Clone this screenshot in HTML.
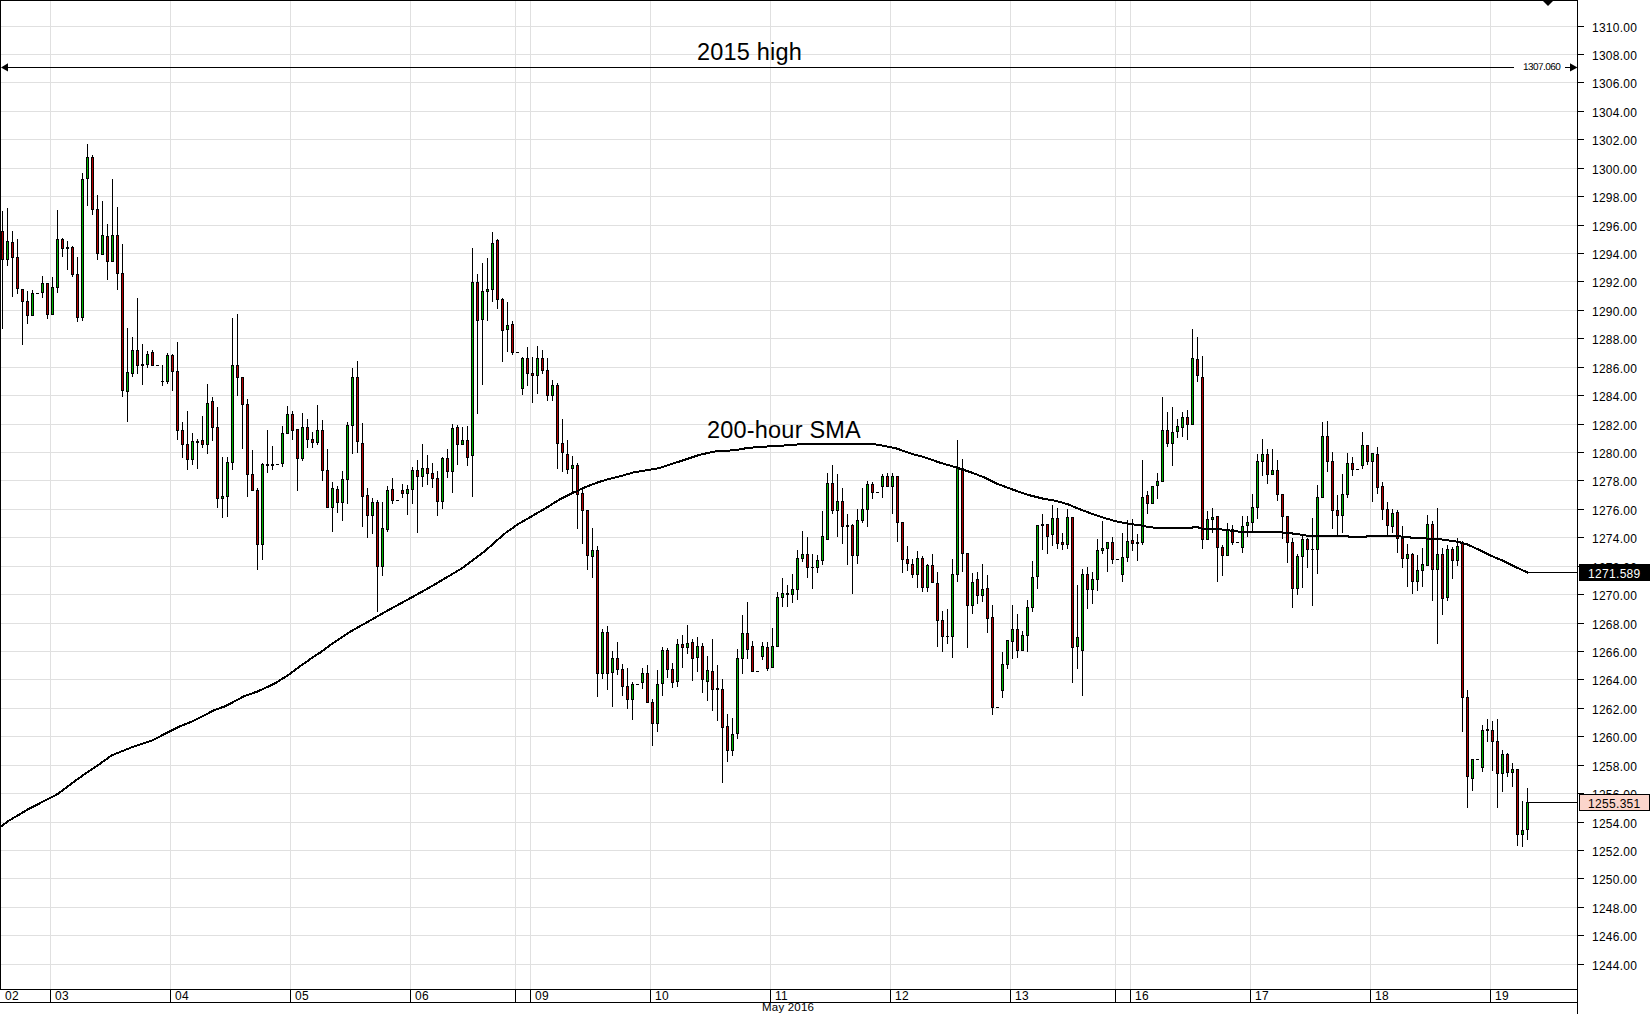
<!DOCTYPE html>
<html><head><meta charset="utf-8"><title>XAU/USD 1H chart</title>
<style>
html,body{margin:0;padding:0;background:#fff;}
body{width:1651px;height:1014px;position:relative;overflow:hidden;font-family:"Liberation Sans",sans-serif;color:#000;}
svg{position:absolute;left:0;top:0;}
.pl{position:absolute;left:1592px;font-size:12px;line-height:14px;height:14px;letter-spacing:0.26px;white-space:nowrap;}
.dl{position:absolute;top:989px;font-size:12px;line-height:14px;height:14px;letter-spacing:0.3px;white-space:nowrap;}
.big{position:absolute;font-size:23.5px;line-height:28px;letter-spacing:0.2px;white-space:nowrap;}
.box{position:absolute;left:1579px;width:71px;height:17px;box-sizing:border-box;font-size:12px;line-height:15px;letter-spacing:0.32px;text-align:left;padding-left:9px;white-space:nowrap;}
</style></head><body>

<svg width="1651" height="1014" viewBox="0 0 1651 1014" shape-rendering="crispEdges">
<path d="M1 964.5H1577 M1 935.5H1577 M1 907.5H1577 M1 878.5H1577 M1 850.5H1577 M1 822.5H1577 M1 793.5H1577 M1 765.5H1577 M1 736.5H1577 M1 708.5H1577 M1 679.5H1577 M1 651.5H1577 M1 623.5H1577 M1 594.5H1577 M1 566.5H1577 M1 537.5H1577 M1 509.5H1577 M1 480.5H1577 M1 452.5H1577 M1 424.5H1577 M1 395.5H1577 M1 367.5H1577 M1 338.5H1577 M1 310.5H1577 M1 281.5H1577 M1 253.5H1577 M1 225.5H1577 M1 196.5H1577 M1 168.5H1577 M1 139.5H1577 M1 111.5H1577 M1 82.5H1577 M1 54.5H1577 M1 26.5H1577 M50.5 1V989 M170.5 1V989 M290.5 1V989 M410.5 1V989 M530.5 1V989 M650.5 1V989 M770.5 1V989 M890.5 1V989 M1010.5 1V989 M1130.5 1V989 M1250.5 1V989 M1370.5 1V989 M1490.5 1V989 M515.5 1V989 M1115.5 1V989" stroke="#e0e0e0" stroke-width="1" fill="none"/>
<path d="M0 .5H1578 M.5 0V990 M1577.5 0V1014 M0 989.5H1578 M0 1002.5H1578 M1578 964.5H1584 M1578 935.5H1584 M1578 907.5H1584 M1578 878.5H1584 M1578 850.5H1584 M1578 822.5H1584 M1578 793.5H1584 M1578 765.5H1584 M1578 736.5H1584 M1578 708.5H1584 M1578 679.5H1584 M1578 651.5H1584 M1578 623.5H1584 M1578 594.5H1584 M1578 566.5H1584 M1578 537.5H1584 M1578 509.5H1584 M1578 480.5H1584 M1578 452.5H1584 M1578 424.5H1584 M1578 395.5H1584 M1578 367.5H1584 M1578 338.5H1584 M1578 310.5H1584 M1578 281.5H1584 M1578 253.5H1584 M1578 225.5H1584 M1578 196.5H1584 M1578 168.5H1584 M1578 139.5H1584 M1578 111.5H1584 M1578 82.5H1584 M1578 54.5H1584 M1578 26.5H1584 M50.5 989V1003 M170.5 989V1003 M290.5 989V1003 M410.5 989V1003 M530.5 989V1003 M650.5 989V1003 M770.5 989V1003 M890.5 989V1003 M1010.5 989V1003 M1130.5 989V1003 M1250.5 989V1003 M1370.5 989V1003 M1490.5 989V1003 M515.5 989V1003 M1115.5 989V1003" stroke="#000" stroke-width="1" fill="none"/>
<path d="M1543 1H1553L1548 6Z" fill="#000" shape-rendering="geometricPrecision"/>
<path d="M6 67.5H1514M1565 67.5H1572" stroke="#000" stroke-width="1" fill="none"/>
<path d="M1 67.5L8 63.3V71.5Z M1577.5 67.5L1570 63.3V71.5Z" fill="#000" shape-rendering="geometricPrecision"/>
<path d="M2 211h1v118h-1zM7 208h1v58h-1zM12 231h1v66h-1zM17 239h1v55h-1zM22 289h1v56h-1zM27 291h1v33h-1zM32 290h1v26h-1zM42 276h1v22h-1zM47 283h1v36h-1zM52 277h1v38h-1zM57 210h1v83h-1zM62 238h1v19h-1zM67 241h1v29h-1zM72 246h1v31h-1zM77 257h1v65h-1zM82 173h1v148h-1zM87 144h1v62h-1zM92 155h1v60h-1zM97 195h1v65h-1zM102 201h1v54h-1zM107 224h1v56h-1zM112 179h1v83h-1zM117 207h1v83h-1zM122 244h1v153h-1zM127 328h1v94h-1zM132 337h1v40h-1zM137 298h1v76h-1zM142 344h1v41h-1zM147 351h1v17h-1zM152 350h1v16h-1zM162 365h1v21h-1zM167 353h1v31h-1zM172 354h1v37h-1zM177 342h1v98h-1zM182 422h1v36h-1zM187 411h1v59h-1zM192 433h1v32h-1zM197 439h1v30h-1zM202 416h1v32h-1zM207 384h1v70h-1zM212 397h1v44h-1zM217 407h1v101h-1zM222 457h1v61h-1zM227 457h1v60h-1zM232 318h1v152h-1zM237 314h1v82h-1zM242 377h1v72h-1zM247 399h1v98h-1zM252 450h1v41h-1zM257 488h1v82h-1zM262 463h1v97h-1zM267 430h1v43h-1zM272 446h1v24h-1zM282 426h1v41h-1zM287 406h1v28h-1zM292 411h1v29h-1zM297 429h1v62h-1zM302 413h1v48h-1zM307 419h1v29h-1zM312 432h1v16h-1zM317 405h1v40h-1zM322 420h1v61h-1zM327 449h1v59h-1zM332 482h1v50h-1zM337 486h1v27h-1zM342 471h1v50h-1zM347 422h1v82h-1zM352 368h1v86h-1zM357 361h1v92h-1zM362 423h1v104h-1zM367 488h1v50h-1zM372 498h1v36h-1zM377 500h1v112h-1zM382 502h1v74h-1zM387 486h1v46h-1zM392 478h1v26h-1zM402 484h1v14h-1zM407 485h1v30h-1zM412 467h1v37h-1zM417 460h1v73h-1zM422 444h1v43h-1zM427 455h1v30h-1zM432 463h1v25h-1zM437 471h1v45h-1zM442 457h1v52h-1zM447 449h1v29h-1zM452 424h1v69h-1zM457 425h1v40h-1zM462 427h1v18h-1zM467 426h1v40h-1zM472 248h1v249h-1zM477 274h1v140h-1zM482 263h1v122h-1zM487 258h1v63h-1zM492 232h1v70h-1zM497 239h1v70h-1zM502 298h1v64h-1zM507 302h1v50h-1zM512 321h1v34h-1zM522 357h1v38h-1zM527 347h1v39h-1zM532 357h1v46h-1zM537 346h1v48h-1zM542 350h1v24h-1zM547 358h1v43h-1zM552 380h1v21h-1zM557 383h1v86h-1zM562 419h1v53h-1zM567 440h1v34h-1zM572 456h1v36h-1zM577 463h1v66h-1zM582 490h1v54h-1zM587 510h1v60h-1zM592 528h1v50h-1zM597 546h1v151h-1zM602 629h1v50h-1zM607 626h1v64h-1zM612 651h1v56h-1zM617 642h1v33h-1zM622 664h1v32h-1zM627 668h1v41h-1zM632 682h1v38h-1zM642 668h1v21h-1zM647 665h1v38h-1zM652 699h1v47h-1zM657 670h1v62h-1zM662 647h1v49h-1zM667 648h1v30h-1zM672 663h1v25h-1zM677 639h1v48h-1zM682 635h1v33h-1zM687 625h1v29h-1zM692 639h1v42h-1zM697 637h1v35h-1zM702 643h1v50h-1zM707 656h1v45h-1zM712 639h1v72h-1zM717 665h1v56h-1zM722 679h1v104h-1zM727 714h1v48h-1zM732 718h1v38h-1zM737 649h1v90h-1zM742 615h1v59h-1zM747 602h1v57h-1zM752 641h1v31h-1zM762 642h1v18h-1zM767 642h1v29h-1zM772 628h1v40h-1zM777 592h1v55h-1zM782 578h1v29h-1zM787 585h1v22h-1zM792 574h1v29h-1zM797 550h1v50h-1zM802 531h1v31h-1zM807 537h1v41h-1zM812 554h1v35h-1zM817 555h1v18h-1zM822 511h1v54h-1zM827 473h1v67h-1zM832 465h1v49h-1zM837 474h1v63h-1zM842 488h1v56h-1zM847 514h1v51h-1zM852 524h1v70h-1zM857 509h1v55h-1zM862 488h1v35h-1zM867 481h1v46h-1zM872 482h1v17h-1zM882 474h1v24h-1zM887 473h1v14h-1zM892 473h1v41h-1zM897 476h1v66h-1zM902 522h1v51h-1zM907 546h1v25h-1zM912 559h1v19h-1zM917 551h1v37h-1zM922 556h1v36h-1zM927 564h1v28h-1zM932 554h1v29h-1zM937 572h1v75h-1zM942 611h1v41h-1zM947 609h1v35h-1zM952 559h1v99h-1zM957 440h1v142h-1zM962 459h1v113h-1zM967 553h1v95h-1zM972 573h1v41h-1zM977 572h1v32h-1zM982 564h1v38h-1zM987 575h1v58h-1zM992 605h1v110h-1zM1002 652h1v46h-1zM1007 640h1v29h-1zM1012 605h1v54h-1zM1017 614h1v44h-1zM1022 631h1v20h-1zM1027 600h1v52h-1zM1032 561h1v51h-1zM1037 525h1v64h-1zM1042 514h1v36h-1zM1047 524h1v30h-1zM1052 505h1v41h-1zM1057 508h1v41h-1zM1062 533h1v17h-1zM1067 509h1v40h-1zM1072 517h1v166h-1zM1077 585h1v84h-1zM1082 569h1v127h-1zM1087 567h1v42h-1zM1092 572h1v32h-1zM1097 539h1v52h-1zM1102 521h1v33h-1zM1107 542h1v30h-1zM1112 537h1v27h-1zM1122 533h1v49h-1zM1127 520h1v42h-1zM1132 519h1v32h-1zM1137 534h1v27h-1zM1142 460h1v85h-1zM1147 491h1v23h-1zM1152 486h1v18h-1zM1157 473h1v26h-1zM1162 397h1v85h-1zM1167 412h1v35h-1zM1172 407h1v59h-1zM1177 419h1v19h-1zM1182 412h1v25h-1zM1187 410h1v30h-1zM1192 329h1v96h-1zM1197 337h1v45h-1zM1202 356h1v193h-1zM1207 511h1v29h-1zM1212 508h1v25h-1zM1217 516h1v66h-1zM1222 545h1v31h-1zM1227 523h1v33h-1zM1232 525h1v20h-1zM1242 516h1v37h-1zM1247 516h1v21h-1zM1252 494h1v39h-1zM1257 454h1v65h-1zM1262 439h1v37h-1zM1267 449h1v35h-1zM1272 449h1v26h-1zM1277 460h1v41h-1zM1282 494h1v45h-1zM1287 516h1v47h-1zM1292 538h1v70h-1zM1297 554h1v41h-1zM1302 536h1v52h-1zM1307 538h1v30h-1zM1312 518h1v88h-1zM1317 485h1v89h-1zM1322 422h1v76h-1zM1327 421h1v51h-1zM1332 452h1v77h-1zM1337 495h1v40h-1zM1342 474h1v59h-1zM1347 453h1v45h-1zM1352 457h1v19h-1zM1362 432h1v37h-1zM1367 445h1v20h-1zM1372 453h1v49h-1zM1377 447h1v47h-1zM1382 482h1v38h-1zM1387 502h1v33h-1zM1392 509h1v24h-1zM1397 510h1v43h-1zM1402 526h1v42h-1zM1407 544h1v43h-1zM1412 553h1v41h-1zM1417 555h1v36h-1zM1422 548h1v39h-1zM1427 515h1v51h-1zM1432 521h1v80h-1zM1437 508h1v136h-1zM1442 548h1v67h-1zM1447 545h1v56h-1zM1452 547h1v32h-1zM1457 538h1v28h-1zM1462 541h1v191h-1zM1467 690h1v118h-1zM1472 759h1v32h-1zM1482 725h1v47h-1zM1487 719h1v23h-1zM1492 721h1v50h-1zM1497 719h1v89h-1zM1502 750h1v42h-1zM1507 753h1v24h-1zM1512 763h1v24h-1zM1517 769h1v77h-1zM1522 801h1v46h-1zM1527 788h1v52h-1zM1 231h3v29h-3zM6 241h3v19h-3zM11 242h3v16h-3zM16 257h3v32h-3zM21 289h3v13h-3zM26 301h3v15h-3zM31 293h3v23h-3zM36 293h3v1h-3zM41 283h3v10h-3zM46 283h3v32h-3zM51 287h3v28h-3zM56 239h3v49h-3zM61 239h3v10h-3zM66 247h3v2h-3zM71 247h3v28h-3zM76 274h3v44h-3zM81 179h3v139h-3zM86 157h3v22h-3zM91 157h3v53h-3zM96 209h3v45h-3zM101 235h3v20h-3zM106 236h3v26h-3zM111 235h3v27h-3zM116 235h3v39h-3zM121 273h3v118h-3zM126 372h3v20h-3zM131 350h3v24h-3zM136 350h3v16h-3zM141 364h3v2h-3zM146 354h3v11h-3zM151 352h3v14h-3zM156 365h3v1h-3zM161 381h3v1h-3zM166 355h3v27h-3zM171 355h3v17h-3zM176 371h3v60h-3zM181 430h3v15h-3zM186 444h3v16h-3zM191 441h3v19h-3zM196 441h3v2h-3zM201 440h3v5h-3zM206 403h3v42h-3zM211 401h3v27h-3zM216 427h3v72h-3zM221 496h3v3h-3zM226 462h3v35h-3zM231 365h3v98h-3zM236 365h3v13h-3zM241 377h3v28h-3zM246 404h3v71h-3zM251 474h3v17h-3zM256 490h3v55h-3zM261 464h3v81h-3zM266 464h3v2h-3zM271 464h3v2h-3zM276 464h3v1h-3zM281 433h3v31h-3zM286 414h3v20h-3zM291 414h3v17h-3zM296 429h3v30h-3zM301 427h3v32h-3zM306 427h3v13h-3zM311 439h3v4h-3zM316 430h3v13h-3zM321 430h3v41h-3zM326 470h3v38h-3zM331 488h3v20h-3zM336 489h3v14h-3zM341 479h3v24h-3zM346 425h3v55h-3zM351 377h3v49h-3zM356 377h3v65h-3zM361 443h3v54h-3zM366 495h3v21h-3zM371 502h3v14h-3zM376 502h3v65h-3zM381 528h3v39h-3zM386 490h3v40h-3zM391 489h3v12h-3zM396 500h3v1h-3zM401 490h3v4h-3zM406 489h3v5h-3zM411 470h3v20h-3zM416 470h3v7h-3zM421 468h3v9h-3zM426 468h3v6h-3zM431 473h3v6h-3zM436 478h3v24h-3zM441 458h3v44h-3zM446 458h3v14h-3zM451 428h3v44h-3zM456 427h3v18h-3zM461 440h3v5h-3zM466 440h3v18h-3zM471 282h3v174h-3zM476 282h3v39h-3zM481 291h3v29h-3zM486 289h3v3h-3zM491 243h3v47h-3zM496 240h3v60h-3zM501 299h3v32h-3zM506 325h3v5h-3zM511 324h3v29h-3zM516 352h3v1h-3zM521 358h3v31h-3zM526 358h3v16h-3zM531 373h3v3h-3zM536 358h3v18h-3zM541 358h3v13h-3zM546 370h3v26h-3zM551 385h3v11h-3zM556 385h3v59h-3zM561 443h3v10h-3zM566 454h3v16h-3zM571 465h3v4h-3zM576 465h3v30h-3zM581 493h3v18h-3zM586 510h3v46h-3zM591 550h3v7h-3zM596 550h3v124h-3zM601 632h3v42h-3zM606 632h3v42h-3zM611 658h3v15h-3zM616 658h3v12h-3zM621 669h3v18h-3zM626 686h3v14h-3zM631 684h3v16h-3zM636 684h3v1h-3zM641 673h3v10h-3zM646 673h3v30h-3zM651 702h3v22h-3zM656 684h3v40h-3zM661 650h3v34h-3zM666 650h3v20h-3zM671 669h3v14h-3zM676 644h3v38h-3zM681 644h3v4h-3zM686 643h3v5h-3zM691 642h3v17h-3zM696 646h3v12h-3zM701 646h3v34h-3zM706 670h3v12h-3zM711 671h3v19h-3zM716 688h3v2h-3zM721 689h3v39h-3zM726 726h3v25h-3zM731 734h3v17h-3zM736 658h3v76h-3zM741 633h3v26h-3zM746 633h3v17h-3zM751 646h3v26h-3zM756 671h3v1h-3zM761 646h3v11h-3zM766 647h3v22h-3zM771 646h3v22h-3zM776 597h3v50h-3zM781 593h3v5h-3zM786 593h3v2h-3zM791 589h3v6h-3zM796 558h3v32h-3zM801 554h3v5h-3zM806 554h3v14h-3zM811 567h3v1h-3zM816 560h3v8h-3zM821 536h3v25h-3zM826 483h3v57h-3zM831 483h3v28h-3zM836 501h3v10h-3zM841 501h3v26h-3zM846 525h3v2h-3zM851 525h3v31h-3zM856 520h3v36h-3zM861 509h3v12h-3zM866 484h3v26h-3zM871 484h3v9h-3zM876 492h3v1h-3zM881 476h3v11h-3zM886 476h3v11h-3zM891 476h3v11h-3zM896 476h3v47h-3zM901 522h3v38h-3zM906 559h3v5h-3zM911 564h3v11h-3zM916 558h3v17h-3zM921 558h3v30h-3zM926 565h3v23h-3zM931 565h3v18h-3zM936 583h3v38h-3zM941 620h3v17h-3zM946 636h3v1h-3zM951 574h3v63h-3zM956 467h3v108h-3zM961 468h3v86h-3zM966 553h3v53h-3zM971 582h3v24h-3zM976 579h3v17h-3zM981 589h3v7h-3zM986 588h3v31h-3zM991 617h3v91h-3zM996 707h3v1h-3zM1001 664h3v27h-3zM1006 640h3v25h-3zM1011 629h3v13h-3zM1016 629h3v22h-3zM1021 635h3v16h-3zM1026 607h3v29h-3zM1031 577h3v31h-3zM1036 525h3v52h-3zM1041 524h3v2h-3zM1046 524h3v13h-3zM1051 518h3v17h-3zM1056 518h3v26h-3zM1061 542h3v3h-3zM1066 517h3v28h-3zM1071 517h3v131h-3zM1076 637h3v10h-3zM1081 574h3v77h-3zM1086 574h3v16h-3zM1091 579h3v11h-3zM1096 550h3v30h-3zM1101 548h3v3h-3zM1106 542h3v7h-3zM1111 542h3v18h-3zM1116 559h3v1h-3zM1121 557h3v18h-3zM1126 541h3v17h-3zM1131 540h3v4h-3zM1136 542h3v2h-3zM1141 497h3v46h-3zM1146 495h3v9h-3zM1151 486h3v18h-3zM1156 481h3v5h-3zM1161 430h3v52h-3zM1166 430h3v14h-3zM1171 432h3v12h-3zM1176 426h3v6h-3zM1181 417h3v11h-3zM1186 417h3v8h-3zM1191 358h3v67h-3zM1196 359h3v17h-3zM1201 377h3v163h-3zM1206 519h3v21h-3zM1211 517h3v3h-3zM1216 516h3v32h-3zM1221 547h3v9h-3zM1226 529h3v27h-3zM1231 529h3v14h-3zM1236 542h3v1h-3zM1241 526h3v22h-3zM1246 522h3v4h-3zM1251 507h3v16h-3zM1256 461h3v47h-3zM1261 454h3v8h-3zM1266 454h3v21h-3zM1271 470h3v5h-3zM1276 470h3v25h-3zM1281 494h3v23h-3zM1286 516h3v27h-3zM1291 542h3v47h-3zM1296 556h3v33h-3zM1301 539h3v18h-3zM1306 539h3v11h-3zM1311 549h3v1h-3zM1316 497h3v53h-3zM1321 436h3v62h-3zM1326 436h3v26h-3zM1331 461h3v50h-3zM1336 510h3v6h-3zM1341 494h3v22h-3zM1346 463h3v32h-3zM1351 463h3v7h-3zM1356 469h3v1h-3zM1361 445h3v21h-3zM1366 445h3v17h-3zM1371 453h3v9h-3zM1376 454h3v34h-3zM1381 486h3v24h-3zM1386 509h3v17h-3zM1391 513h3v14h-3zM1396 512h3v27h-3zM1401 538h3v21h-3zM1406 554h3v5h-3zM1411 554h3v28h-3zM1416 570h3v12h-3zM1421 564h3v7h-3zM1426 524h3v42h-3zM1431 524h3v46h-3zM1436 554h3v16h-3zM1441 554h3v45h-3zM1446 549h3v49h-3zM1451 549h3v12h-3zM1456 546h3v15h-3zM1461 543h3v155h-3zM1466 697h3v80h-3zM1471 759h3v20h-3zM1476 759h3v1h-3zM1481 730h3v38h-3zM1486 729h3v2h-3zM1491 730h3v12h-3zM1496 741h3v33h-3zM1501 754h3v20h-3zM1506 754h3v19h-3zM1511 769h3v4h-3zM1516 769h3v66h-3zM1521 830h3v5h-3zM1526 802h3v28h-3z" fill="#000"/>
<path d="M7 242h1v17h-1zM32 294h1v21h-1zM42 284h1v8h-1zM52 288h1v26h-1zM57 240h1v47h-1zM82 180h1v137h-1zM87 158h1v20h-1zM102 236h1v18h-1zM112 236h1v25h-1zM127 373h1v18h-1zM132 351h1v22h-1zM147 355h1v9h-1zM167 356h1v25h-1zM192 442h1v17h-1zM207 404h1v40h-1zM222 497h1v1h-1zM227 463h1v33h-1zM232 366h1v96h-1zM262 465h1v79h-1zM282 434h1v29h-1zM287 415h1v18h-1zM302 428h1v30h-1zM317 431h1v11h-1zM332 489h1v18h-1zM342 480h1v22h-1zM347 426h1v53h-1zM352 378h1v47h-1zM372 503h1v12h-1zM382 529h1v37h-1zM387 491h1v38h-1zM407 490h1v3h-1zM412 471h1v18h-1zM422 469h1v7h-1zM442 459h1v42h-1zM452 429h1v42h-1zM462 441h1v3h-1zM472 283h1v172h-1zM482 292h1v27h-1zM487 290h1v1h-1zM492 244h1v45h-1zM507 326h1v3h-1zM522 359h1v29h-1zM537 359h1v16h-1zM552 386h1v9h-1zM572 466h1v2h-1zM592 551h1v5h-1zM602 633h1v40h-1zM612 659h1v13h-1zM632 685h1v14h-1zM642 674h1v8h-1zM657 685h1v38h-1zM662 651h1v32h-1zM677 645h1v36h-1zM687 644h1v3h-1zM697 647h1v10h-1zM707 671h1v10h-1zM732 735h1v15h-1zM737 659h1v74h-1zM742 634h1v24h-1zM762 647h1v9h-1zM772 647h1v20h-1zM777 598h1v48h-1zM782 594h1v3h-1zM792 590h1v4h-1zM797 559h1v30h-1zM802 555h1v3h-1zM817 561h1v6h-1zM822 537h1v23h-1zM827 484h1v55h-1zM837 502h1v8h-1zM857 521h1v34h-1zM862 510h1v10h-1zM867 485h1v24h-1zM882 477h1v9h-1zM892 477h1v9h-1zM917 559h1v15h-1zM927 566h1v21h-1zM952 575h1v61h-1zM957 468h1v106h-1zM972 583h1v22h-1zM982 590h1v5h-1zM1002 665h1v25h-1zM1007 641h1v23h-1zM1012 630h1v11h-1zM1022 636h1v14h-1zM1027 608h1v27h-1zM1032 578h1v29h-1zM1037 526h1v50h-1zM1052 519h1v15h-1zM1067 518h1v26h-1zM1077 638h1v8h-1zM1082 575h1v75h-1zM1092 580h1v9h-1zM1097 551h1v28h-1zM1102 549h1v1h-1zM1107 543h1v5h-1zM1122 558h1v16h-1zM1127 542h1v15h-1zM1142 498h1v44h-1zM1152 487h1v16h-1zM1157 482h1v3h-1zM1162 431h1v50h-1zM1172 433h1v10h-1zM1177 427h1v4h-1zM1182 418h1v9h-1zM1192 359h1v65h-1zM1207 520h1v19h-1zM1212 518h1v1h-1zM1227 530h1v25h-1zM1242 527h1v20h-1zM1247 523h1v2h-1zM1252 508h1v14h-1zM1257 462h1v45h-1zM1262 455h1v6h-1zM1272 471h1v3h-1zM1297 557h1v31h-1zM1302 540h1v16h-1zM1317 498h1v51h-1zM1322 437h1v60h-1zM1342 495h1v20h-1zM1347 464h1v30h-1zM1362 446h1v19h-1zM1372 454h1v7h-1zM1392 514h1v12h-1zM1407 555h1v3h-1zM1417 571h1v10h-1zM1422 565h1v5h-1zM1427 525h1v40h-1zM1437 555h1v14h-1zM1447 550h1v47h-1zM1457 547h1v13h-1zM1472 760h1v18h-1zM1482 731h1v36h-1zM1502 755h1v18h-1zM1512 770h1v2h-1zM1522 831h1v3h-1zM1527 803h1v26h-1z" fill="#00b400"/>
<path d="M2 232h1v27h-1zM12 243h1v14h-1zM17 258h1v30h-1zM22 290h1v11h-1zM27 302h1v13h-1zM47 284h1v30h-1zM62 240h1v8h-1zM72 248h1v26h-1zM77 275h1v42h-1zM92 158h1v51h-1zM97 210h1v43h-1zM107 237h1v24h-1zM117 236h1v37h-1zM122 274h1v116h-1zM137 351h1v14h-1zM152 353h1v12h-1zM172 356h1v15h-1zM177 372h1v58h-1zM182 431h1v13h-1zM187 445h1v14h-1zM202 441h1v3h-1zM212 402h1v25h-1zM217 428h1v70h-1zM237 366h1v11h-1zM242 378h1v26h-1zM247 405h1v69h-1zM252 475h1v15h-1zM257 491h1v53h-1zM292 415h1v15h-1zM297 430h1v28h-1zM307 428h1v11h-1zM312 440h1v2h-1zM322 431h1v39h-1zM327 471h1v36h-1zM337 490h1v12h-1zM357 378h1v63h-1zM362 444h1v52h-1zM367 496h1v19h-1zM377 503h1v63h-1zM392 490h1v10h-1zM402 491h1v2h-1zM417 471h1v5h-1zM427 469h1v4h-1zM432 474h1v4h-1zM437 479h1v22h-1zM447 459h1v12h-1zM457 428h1v16h-1zM467 441h1v16h-1zM477 283h1v37h-1zM497 241h1v58h-1zM502 300h1v30h-1zM512 325h1v27h-1zM527 359h1v14h-1zM532 374h1v1h-1zM542 359h1v11h-1zM547 371h1v24h-1zM557 386h1v57h-1zM562 444h1v8h-1zM567 455h1v14h-1zM577 466h1v28h-1zM582 494h1v16h-1zM587 511h1v44h-1zM597 551h1v122h-1zM607 633h1v40h-1zM617 659h1v10h-1zM622 670h1v16h-1zM627 687h1v12h-1zM647 674h1v28h-1zM652 703h1v20h-1zM667 651h1v18h-1zM672 670h1v12h-1zM682 645h1v2h-1zM692 643h1v15h-1zM702 647h1v32h-1zM712 672h1v17h-1zM722 690h1v37h-1zM727 727h1v23h-1zM747 634h1v15h-1zM752 647h1v24h-1zM767 648h1v20h-1zM807 555h1v12h-1zM832 484h1v26h-1zM842 502h1v24h-1zM852 526h1v29h-1zM872 485h1v7h-1zM887 477h1v9h-1zM897 477h1v45h-1zM902 523h1v36h-1zM907 560h1v3h-1zM912 565h1v9h-1zM922 559h1v28h-1zM932 566h1v16h-1zM937 584h1v36h-1zM942 621h1v15h-1zM962 469h1v84h-1zM967 554h1v51h-1zM977 580h1v15h-1zM987 589h1v29h-1zM992 618h1v89h-1zM1017 630h1v20h-1zM1047 525h1v11h-1zM1057 519h1v24h-1zM1062 543h1v1h-1zM1072 518h1v129h-1zM1087 575h1v14h-1zM1112 543h1v16h-1zM1132 541h1v2h-1zM1147 496h1v7h-1zM1167 431h1v12h-1zM1187 418h1v6h-1zM1197 360h1v15h-1zM1202 378h1v161h-1zM1217 517h1v30h-1zM1222 548h1v7h-1zM1232 530h1v12h-1zM1267 455h1v19h-1zM1277 471h1v23h-1zM1282 495h1v21h-1zM1287 517h1v25h-1zM1292 543h1v45h-1zM1307 540h1v9h-1zM1327 437h1v24h-1zM1332 462h1v48h-1zM1337 511h1v4h-1zM1352 464h1v5h-1zM1367 446h1v15h-1zM1377 455h1v32h-1zM1382 487h1v22h-1zM1387 510h1v15h-1zM1397 513h1v25h-1zM1402 539h1v19h-1zM1412 555h1v26h-1zM1432 525h1v44h-1zM1442 555h1v43h-1zM1452 550h1v10h-1zM1462 544h1v153h-1zM1467 698h1v78h-1zM1492 731h1v10h-1zM1497 742h1v31h-1zM1507 755h1v17h-1zM1517 770h1v64h-1z" fill="#b40000"/>
<path d="M0 827.2 L8 821.2 L30 808.2 L51 797.6 L58 793.8 L72 783.2 L86 773.2 L98 765.2 L112 755.2 L132 747.2 L152 740.6 L170 731.2 L180 726.2 L192 721.6 L214 710.3 L226 705.9 L244 696.3 L258 691.3 L274 683.9 L288 675.3 L300 666.3 L312 657.9 L320 652.7 L332 643.9 L350 631.8 L370 620.6 L390 609.2 L411 597.8 L430 587.2 L448 576.6 L462 568.2 L474 559.2 L486 550.2 L496 541.2 L506 532.6 L518 524.2 L531 516.7 L546 507.9 L560 499.3 L574 492.3 L586 486.9 L598 482.3 L608 479.3 L620 476.3 L634 472.3 L650 469.7 L660 467.9 L680 461.3 L700 454.7 L716 451.3 L734 450.3 L748 447.9 L770 446.3 L788 445.3 L804 443.9 L840 443.7 L872 443.9 L884 445.9 L896 448.3 L910 453.3 L926 457.7 L940 462.7 L956 467.3 L972 472.7 L984 477.3 L996 483.3 L1012 489.3 L1028 494.9 L1044 498.9 L1056 500.9 L1068 504.3 L1080 509.3 L1092 513.9 L1104 517.9 L1116 521.3 L1128 523.7 L1140 525.3 L1150 527.3 L1164 528.3 L1190 528.3 L1193 527.3 L1198 527.3 L1202 528.7 L1220 529.3 L1228 530.3 L1240 531.7 L1260 532.3 L1270 532.4 L1282 532.4 L1298 534.1 L1309 536.0 L1348 536.0 L1349 537.0 L1366 537.0 L1367 536.0 L1395 536.0 L1404 536.8 L1414 537.9 L1438 539.0 L1450 540.6 L1458 541.8 L1467 544.3 L1478 549.3 L1490 555.3 L1502 560.3 L1514 566.3 L1528.5 572.9" stroke="#000" stroke-width="2" fill="none" stroke-linejoin="round"/>
<path d="M1528 572.5H1577" stroke="#000" stroke-width="1" fill="none"/>
<path d="M1529 802.5H1577" stroke="#000" stroke-width="1" fill="none"/>
</svg>
<div class="pl" style="top:959px">1244.00</div>
<div class="pl" style="top:930px">1246.00</div>
<div class="pl" style="top:902px">1248.00</div>
<div class="pl" style="top:873px">1250.00</div>
<div class="pl" style="top:845px">1252.00</div>
<div class="pl" style="top:817px">1254.00</div>
<div class="pl" style="top:788px">1256.00</div>
<div class="pl" style="top:760px">1258.00</div>
<div class="pl" style="top:731px">1260.00</div>
<div class="pl" style="top:703px">1262.00</div>
<div class="pl" style="top:674px">1264.00</div>
<div class="pl" style="top:646px">1266.00</div>
<div class="pl" style="top:618px">1268.00</div>
<div class="pl" style="top:589px">1270.00</div>
<div class="pl" style="top:561px">1272.00</div>
<div class="pl" style="top:532px">1274.00</div>
<div class="pl" style="top:504px">1276.00</div>
<div class="pl" style="top:475px">1278.00</div>
<div class="pl" style="top:447px">1280.00</div>
<div class="pl" style="top:419px">1282.00</div>
<div class="pl" style="top:390px">1284.00</div>
<div class="pl" style="top:362px">1286.00</div>
<div class="pl" style="top:333px">1288.00</div>
<div class="pl" style="top:305px">1290.00</div>
<div class="pl" style="top:276px">1292.00</div>
<div class="pl" style="top:248px">1294.00</div>
<div class="pl" style="top:220px">1296.00</div>
<div class="pl" style="top:191px">1298.00</div>
<div class="pl" style="top:163px">1300.00</div>
<div class="pl" style="top:134px">1302.00</div>
<div class="pl" style="top:106px">1304.00</div>
<div class="pl" style="top:77px">1306.00</div>
<div class="pl" style="top:49px">1308.00</div>
<div class="pl" style="top:21px">1310.00</div>
<div class="box" style="top:564px;background:#000;color:#fff;line-height:21px">1271.589</div>
<div class="box" style="top:794px;background:#fbd5cb;border:1px solid #000;line-height:18px;padding-left:8px">1255.351</div>
<div class="dl" style="left:5px">02</div>
<div class="dl" style="left:55px">03</div>
<div class="dl" style="left:175px">04</div>
<div class="dl" style="left:295px">05</div>
<div class="dl" style="left:415px">06</div>
<div class="dl" style="left:535px">09</div>
<div class="dl" style="left:655px">10</div>
<div class="dl" style="left:775px">11</div>
<div class="dl" style="left:895px">12</div>
<div class="dl" style="left:1015px">13</div>
<div class="dl" style="left:1135px">16</div>
<div class="dl" style="left:1255px">17</div>
<div class="dl" style="left:1375px">18</div>
<div class="dl" style="left:1495px">19</div>
<div class="dl" style="left:762px;top:1000px;font-size:11.5px;letter-spacing:0.2px">May 2016</div>
<div style="position:absolute;left:1523px;top:62px;font-size:10px;line-height:12px;letter-spacing:-0.55px;text-rendering:geometricPrecision">1307.060</div>
<div class="big" style="left:697px;top:38px">2015 high</div>
<div class="big" style="left:707px;top:416px">200-hour SMA</div>
</body></html>
